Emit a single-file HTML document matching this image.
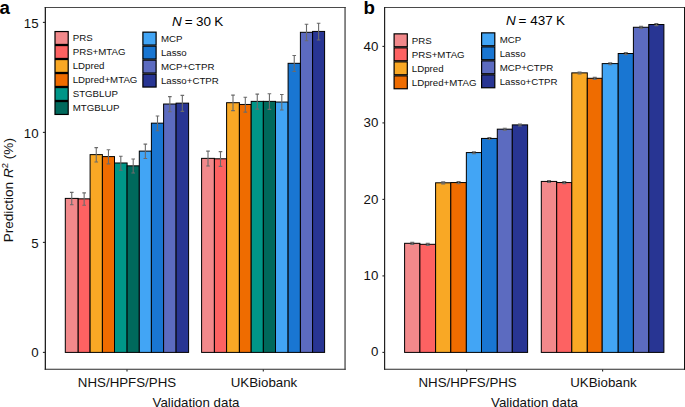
<!DOCTYPE html>
<html><head><meta charset="utf-8"><style>
html,body{margin:0;padding:0;background:#fff;width:685px;height:407px;overflow:hidden}
svg{display:block}
.t{font-family:'Liberation Sans',sans-serif;font-size:13.3px;fill:#111}
.l{font-family:'Liberation Sans',sans-serif;font-size:9.7px;fill:#111}
.n{font-family:'Liberation Sans',sans-serif;font-size:13.5px;fill:#000}
.p{font-family:'Liberation Sans',sans-serif;font-size:18.7px;font-weight:bold;fill:#000}
</style></head><body>
<svg width="685" height="407" viewBox="0 0 685 407">
<rect width="685" height="407" fill="#fff"/>
<path d="M44.7 7.5H345.7" stroke="#4a4a4a" stroke-width="1.0" fill="none"/>
<path d="M44.7 369.25H345.7" stroke="#2a2a2a" stroke-width="1.15" fill="none"/>
<path d="M45.35 7V369.8" stroke="#222" stroke-width="1.3" fill="none"/>
<path d="M345.05 7V369.8" stroke="#3a3a3a" stroke-width="1.2" fill="none"/>
<line x1="42.9" y1="352.40" x2="45.5" y2="352.40" stroke="#262626" stroke-width="1.1"/>
<text x="38.6" y="357.45" text-anchor="end" class="t">0</text>
<line x1="42.9" y1="242.40" x2="45.5" y2="242.40" stroke="#262626" stroke-width="1.1"/>
<text x="38.6" y="247.60" text-anchor="end" class="t">5</text>
<line x1="42.9" y1="132.40" x2="45.5" y2="132.40" stroke="#262626" stroke-width="1.1"/>
<text x="38.6" y="137.80" text-anchor="end" class="t">10</text>
<line x1="42.9" y1="22.40" x2="45.5" y2="22.40" stroke="#262626" stroke-width="1.1"/>
<text x="38.6" y="28.40" text-anchor="end" class="t">15</text>
<line x1="127.0" y1="369.5" x2="127.0" y2="371.6" stroke="#262626" stroke-width="1.1"/>
<line x1="263.3" y1="369.5" x2="263.3" y2="371.6" stroke="#262626" stroke-width="1.1"/>
<text x="127" y="386.9" text-anchor="middle" class="t">NHS/HPFS/PHS</text>
<text x="264" y="386.9" text-anchor="middle" class="t">UKBiobank</text>
<text x="196" y="406.5" text-anchor="middle" class="t">Validation data</text>
<rect x="65.30" y="198.40" width="12.90" height="154.00" fill="#F2898B" stroke="#000" stroke-width="1.0"/>
<rect x="78.20" y="198.84" width="11.90" height="153.56" fill="#FD6262" stroke="#000" stroke-width="1.0"/>
<rect x="90.10" y="154.62" width="12.30" height="197.78" fill="#F9A825" stroke="#000" stroke-width="1.0"/>
<rect x="102.40" y="156.60" width="12.10" height="195.80" fill="#EF6C00" stroke="#000" stroke-width="1.0"/>
<rect x="114.50" y="162.98" width="12.60" height="189.42" fill="#009688" stroke="#000" stroke-width="1.0"/>
<rect x="127.10" y="165.84" width="12.20" height="186.56" fill="#00695C" stroke="#000" stroke-width="1.0"/>
<rect x="139.30" y="151.10" width="12.10" height="201.30" fill="#42A5F5" stroke="#000" stroke-width="1.0"/>
<rect x="151.40" y="123.16" width="12.20" height="229.24" fill="#1976D2" stroke="#000" stroke-width="1.0"/>
<rect x="163.60" y="104.02" width="12.50" height="248.38" fill="#5C6BC0" stroke="#000" stroke-width="1.0"/>
<rect x="176.10" y="103.14" width="12.50" height="249.26" fill="#283593" stroke="#000" stroke-width="1.0"/>
<rect x="201.60" y="158.36" width="12.80" height="194.04" fill="#F2898B" stroke="#000" stroke-width="1.0"/>
<rect x="214.40" y="158.80" width="12.20" height="193.60" fill="#FD6262" stroke="#000" stroke-width="1.0"/>
<rect x="226.60" y="102.70" width="12.80" height="249.70" fill="#F9A825" stroke="#000" stroke-width="1.0"/>
<rect x="239.40" y="104.46" width="11.80" height="247.94" fill="#EF6C00" stroke="#000" stroke-width="1.0"/>
<rect x="251.20" y="101.38" width="12.15" height="251.02" fill="#009688" stroke="#000" stroke-width="1.0"/>
<rect x="263.35" y="101.38" width="12.15" height="251.02" fill="#00695C" stroke="#000" stroke-width="1.0"/>
<rect x="275.50" y="102.04" width="12.60" height="250.36" fill="#42A5F5" stroke="#000" stroke-width="1.0"/>
<rect x="288.10" y="63.32" width="12.30" height="289.08" fill="#1976D2" stroke="#000" stroke-width="1.0"/>
<rect x="300.40" y="32.30" width="12.20" height="320.10" fill="#5C6BC0" stroke="#000" stroke-width="1.0"/>
<rect x="312.60" y="31.42" width="12.00" height="320.98" fill="#283593" stroke="#000" stroke-width="1.0"/>
<path d="M69.95 192.40H73.55M71.75 192.40V204.80M69.95 204.80H73.55" stroke="#6b6b6b" stroke-width="1.1" fill="none"/>
<path d="M82.35 192.84H85.95M84.15 192.84V205.24M82.35 205.24H85.95" stroke="#6b6b6b" stroke-width="1.1" fill="none"/>
<path d="M94.45 147.62H98.05M96.25 147.62V162.02M94.45 162.02H98.05" stroke="#6b6b6b" stroke-width="1.1" fill="none"/>
<path d="M106.65 149.70H110.25M108.45 149.70V163.90M106.65 163.90H110.25" stroke="#6b6b6b" stroke-width="1.1" fill="none"/>
<path d="M119.00 156.18H122.60M120.80 156.18V170.18M119.00 170.18H122.60" stroke="#6b6b6b" stroke-width="1.1" fill="none"/>
<path d="M131.40 159.04H135.00M133.20 159.04V173.04M131.40 173.04H135.00" stroke="#6b6b6b" stroke-width="1.1" fill="none"/>
<path d="M143.55 144.15H147.15M145.35 144.15V158.45M143.55 158.45H147.15" stroke="#6b6b6b" stroke-width="1.1" fill="none"/>
<path d="M155.70 116.01H159.30M157.50 116.01V130.71M155.70 130.71H159.30" stroke="#6b6b6b" stroke-width="1.1" fill="none"/>
<path d="M168.05 96.62H171.65M169.85 96.62V111.82M168.05 111.82H171.65" stroke="#6b6b6b" stroke-width="1.1" fill="none"/>
<path d="M180.55 95.34H184.15M182.35 95.34V111.34M180.55 111.34H184.15" stroke="#6b6b6b" stroke-width="1.1" fill="none"/>
<path d="M206.20 151.16H209.80M208.00 151.16V165.96M206.20 165.96H209.80" stroke="#6b6b6b" stroke-width="1.1" fill="none"/>
<path d="M218.70 151.60H222.30M220.50 151.60V166.40M218.70 166.40H222.30" stroke="#6b6b6b" stroke-width="1.1" fill="none"/>
<path d="M231.20 95.15H234.80M233.00 95.15V110.65M231.20 110.65H234.80" stroke="#6b6b6b" stroke-width="1.1" fill="none"/>
<path d="M243.50 97.21H247.10M245.30 97.21V112.11M243.50 112.11H247.10" stroke="#6b6b6b" stroke-width="1.1" fill="none"/>
<path d="M255.47 94.08H259.07M257.27 94.08V109.08M255.47 109.08H259.07" stroke="#6b6b6b" stroke-width="1.1" fill="none"/>
<path d="M267.62 93.78H271.23M269.43 93.78V109.38M267.62 109.38H271.23" stroke="#6b6b6b" stroke-width="1.1" fill="none"/>
<path d="M280.00 94.44H283.60M281.80 94.44V110.04M280.00 110.04H283.60" stroke="#6b6b6b" stroke-width="1.1" fill="none"/>
<path d="M292.45 55.57H296.05M294.25 55.57V71.47M292.45 71.47H296.05" stroke="#6b6b6b" stroke-width="1.1" fill="none"/>
<path d="M304.70 24.25H308.30M306.50 24.25V40.75M304.70 40.75H308.30" stroke="#6b6b6b" stroke-width="1.1" fill="none"/>
<path d="M316.80 23.27H320.40M318.60 23.27V39.97M316.80 39.97H320.40" stroke="#6b6b6b" stroke-width="1.1" fill="none"/>
<path d="M384 7.5H685" stroke="#4a4a4a" stroke-width="1.0" fill="none"/>
<path d="M384 369.25H685" stroke="#2a2a2a" stroke-width="1.15" fill="none"/>
<path d="M384.6 7V369.8" stroke="#222" stroke-width="1.2" fill="none"/>
<path d="M684.5 7V369.8" stroke="#111" stroke-width="1.0" fill="none"/>
<line x1="382.4" y1="352.40" x2="384.6" y2="352.40" stroke="#262626" stroke-width="1.1"/>
<text x="378.4" y="356.20" text-anchor="end" class="t">0</text>
<line x1="382.4" y1="275.90" x2="384.6" y2="275.90" stroke="#262626" stroke-width="1.1"/>
<text x="378.4" y="280.30" text-anchor="end" class="t">10</text>
<line x1="382.4" y1="199.40" x2="384.6" y2="199.40" stroke="#262626" stroke-width="1.1"/>
<text x="378.4" y="204.00" text-anchor="end" class="t">20</text>
<line x1="382.4" y1="122.90" x2="384.6" y2="122.90" stroke="#262626" stroke-width="1.1"/>
<text x="378.4" y="127.40" text-anchor="end" class="t">30</text>
<line x1="382.4" y1="46.40" x2="384.6" y2="46.40" stroke="#262626" stroke-width="1.1"/>
<text x="378.4" y="50.90" text-anchor="end" class="t">40</text>
<line x1="466.6" y1="369.5" x2="466.6" y2="371.6" stroke="#262626" stroke-width="1.1"/>
<line x1="602.6" y1="369.5" x2="602.6" y2="371.6" stroke="#262626" stroke-width="1.1"/>
<text x="467.6" y="386.9" text-anchor="middle" class="t">NHS/HPFS/PHS</text>
<text x="603.5" y="386.9" text-anchor="middle" class="t">UKBiobank</text>
<text x="534.5" y="406.5" text-anchor="middle" class="t">Validation data</text>
<rect x="404.60" y="243.31" width="15.30" height="109.09" fill="#F2898B" stroke="#000" stroke-width="1.0"/>
<rect x="419.90" y="244.31" width="15.70" height="108.09" fill="#FD6262" stroke="#000" stroke-width="1.0"/>
<rect x="435.60" y="182.80" width="15.20" height="169.60" fill="#F9A825" stroke="#000" stroke-width="1.0"/>
<rect x="450.80" y="182.57" width="15.55" height="169.83" fill="#EF6C00" stroke="#000" stroke-width="1.0"/>
<rect x="466.35" y="152.58" width="15.15" height="199.82" fill="#42A5F5" stroke="#000" stroke-width="1.0"/>
<rect x="481.50" y="138.43" width="15.80" height="213.97" fill="#1976D2" stroke="#000" stroke-width="1.0"/>
<rect x="497.30" y="129.17" width="15.00" height="223.23" fill="#5C6BC0" stroke="#000" stroke-width="1.0"/>
<rect x="512.30" y="124.89" width="15.30" height="227.51" fill="#283593" stroke="#000" stroke-width="1.0"/>
<rect x="541.30" y="181.42" width="15.40" height="170.98" fill="#F2898B" stroke="#000" stroke-width="1.0"/>
<rect x="556.70" y="182.57" width="15.10" height="169.83" fill="#FD6262" stroke="#000" stroke-width="1.0"/>
<rect x="571.80" y="72.87" width="15.50" height="279.53" fill="#F9A825" stroke="#000" stroke-width="1.0"/>
<rect x="587.30" y="78.30" width="14.90" height="274.10" fill="#EF6C00" stroke="#000" stroke-width="1.0"/>
<rect x="602.20" y="63.61" width="16.00" height="288.79" fill="#42A5F5" stroke="#000" stroke-width="1.0"/>
<rect x="618.20" y="53.51" width="15.20" height="298.89" fill="#1976D2" stroke="#000" stroke-width="1.0"/>
<rect x="633.40" y="27.27" width="15.40" height="325.12" fill="#5C6BC0" stroke="#000" stroke-width="1.0"/>
<rect x="648.80" y="24.52" width="15.10" height="327.88" fill="#283593" stroke="#000" stroke-width="1.0"/>
<path d="M410.25 242.41H414.25M412.25 242.41V244.41M410.25 244.41H414.25" stroke="#6b6b6b" stroke-width="1.1" fill="none"/>
<path d="M425.75 243.41H429.75M427.75 243.41V245.41M425.75 245.41H429.75" stroke="#6b6b6b" stroke-width="1.1" fill="none"/>
<path d="M441.20 181.90H445.20M443.20 181.90V183.90M441.20 183.90H445.20" stroke="#6b6b6b" stroke-width="1.1" fill="none"/>
<path d="M456.58 181.67H460.58M458.58 181.67V183.67M456.58 183.67H460.58" stroke="#6b6b6b" stroke-width="1.1" fill="none"/>
<path d="M471.93 151.68H475.93M473.93 151.68V153.68M471.93 153.68H475.93" stroke="#6b6b6b" stroke-width="1.1" fill="none"/>
<path d="M487.40 137.53H491.40M489.40 137.53V139.53M487.40 139.53H491.40" stroke="#6b6b6b" stroke-width="1.1" fill="none"/>
<path d="M502.80 128.27H506.80M504.80 128.27V130.27M502.80 130.27H506.80" stroke="#6b6b6b" stroke-width="1.1" fill="none"/>
<path d="M517.95 123.99H521.95M519.95 123.99V125.99M517.95 125.99H521.95" stroke="#6b6b6b" stroke-width="1.1" fill="none"/>
<path d="M547.00 180.52H551.00M549.00 180.52V182.52M547.00 182.52H551.00" stroke="#6b6b6b" stroke-width="1.1" fill="none"/>
<path d="M562.25 181.67H566.25M564.25 181.67V183.67M562.25 183.67H566.25" stroke="#6b6b6b" stroke-width="1.1" fill="none"/>
<path d="M577.55 71.97H581.55M579.55 71.97V73.97M577.55 73.97H581.55" stroke="#6b6b6b" stroke-width="1.1" fill="none"/>
<path d="M592.75 77.40H596.75M594.75 77.40V79.40M592.75 79.40H596.75" stroke="#6b6b6b" stroke-width="1.1" fill="none"/>
<path d="M608.20 62.71H612.20M610.20 62.71V64.71M608.20 64.71H612.20" stroke="#6b6b6b" stroke-width="1.1" fill="none"/>
<path d="M623.80 52.61H627.80M625.80 52.61V54.61M623.80 54.61H627.80" stroke="#6b6b6b" stroke-width="1.1" fill="none"/>
<path d="M639.10 26.37H643.10M641.10 26.37V28.37M639.10 28.37H643.10" stroke="#6b6b6b" stroke-width="1.1" fill="none"/>
<path d="M654.35 23.62H658.35M656.35 23.62V25.62M654.35 25.62H658.35" stroke="#6b6b6b" stroke-width="1.1" fill="none"/>
<rect x="55.00" y="31.55" width="13.20" height="12.90" fill="#F2898B" stroke="#000" stroke-width="1.2"/>
<text x="72.70" y="41.40" class="l">PRS</text>
<rect x="55.00" y="45.55" width="13.20" height="12.90" fill="#FD6262" stroke="#000" stroke-width="1.2"/>
<text x="72.70" y="55.40" class="l">PRS+MTAG</text>
<rect x="55.00" y="59.55" width="13.20" height="12.90" fill="#F9A825" stroke="#000" stroke-width="1.2"/>
<text x="72.70" y="69.40" class="l">LDpred</text>
<rect x="55.00" y="73.55" width="13.20" height="12.90" fill="#EF6C00" stroke="#000" stroke-width="1.2"/>
<text x="72.70" y="83.40" class="l">LDpred+MTAG</text>
<rect x="55.00" y="87.55" width="13.20" height="12.90" fill="#009688" stroke="#000" stroke-width="1.2"/>
<text x="72.70" y="97.40" class="l">STGBLUP</text>
<rect x="55.00" y="101.55" width="13.20" height="12.90" fill="#00695C" stroke="#000" stroke-width="1.2"/>
<text x="72.70" y="111.40" class="l">MTGBLUP</text>
<rect x="142.90" y="32.15" width="13.20" height="12.90" fill="#42A5F5" stroke="#000" stroke-width="1.2"/>
<text x="160.90" y="42.00" class="l">MCP</text>
<rect x="142.90" y="46.15" width="13.20" height="12.90" fill="#1976D2" stroke="#000" stroke-width="1.2"/>
<text x="160.90" y="56.00" class="l">Lasso</text>
<rect x="142.90" y="60.15" width="13.20" height="12.90" fill="#5C6BC0" stroke="#000" stroke-width="1.2"/>
<text x="160.90" y="70.00" class="l">MCP+CTPR</text>
<rect x="142.90" y="74.15" width="13.20" height="12.90" fill="#283593" stroke="#000" stroke-width="1.2"/>
<text x="160.90" y="84.00" class="l">Lasso+CTPR</text>
<rect x="394.10" y="33.85" width="13.20" height="12.90" fill="#F2898B" stroke="#000" stroke-width="1.2"/>
<text x="411.80" y="43.70" class="l">PRS</text>
<rect x="394.10" y="47.85" width="13.20" height="12.90" fill="#FD6262" stroke="#000" stroke-width="1.2"/>
<text x="411.80" y="57.70" class="l">PRS+MTAG</text>
<rect x="394.10" y="61.85" width="13.20" height="12.90" fill="#F9A825" stroke="#000" stroke-width="1.2"/>
<text x="411.80" y="71.70" class="l">LDpred</text>
<rect x="394.10" y="75.85" width="13.20" height="12.90" fill="#EF6C00" stroke="#000" stroke-width="1.2"/>
<text x="411.80" y="85.70" class="l">LDpred+MTAG</text>
<rect x="481.60" y="32.85" width="13.20" height="12.90" fill="#42A5F5" stroke="#000" stroke-width="1.2"/>
<text x="499.70" y="42.70" class="l">MCP</text>
<rect x="481.60" y="46.85" width="13.20" height="12.90" fill="#1976D2" stroke="#000" stroke-width="1.2"/>
<text x="499.70" y="56.70" class="l">Lasso</text>
<rect x="481.60" y="60.85" width="13.20" height="12.90" fill="#5C6BC0" stroke="#000" stroke-width="1.2"/>
<text x="499.70" y="70.70" class="l">MCP+CTPR</text>
<rect x="481.60" y="74.85" width="13.20" height="12.90" fill="#283593" stroke="#000" stroke-width="1.2"/>
<text x="499.70" y="84.70" class="l">Lasso+CTPR</text>
<text x="172" y="25.6" class="n"><tspan font-style="italic">N</tspan><tspan dx="-0.8"> =</tspan><tspan dx="-0.4"> 30</tspan><tspan dx="-0.4"> K</tspan></text>
<text x="505.9" y="24.9" class="n"><tspan font-style="italic">N</tspan><tspan dx="-0.8"> =</tspan><tspan dx="0"> 437</tspan><tspan dx="-0.4"> K</tspan></text>
<text x="-0.4" y="13.8" class="p">a</text>
<text x="363.6" y="13.8" class="p">b</text>
<text transform="translate(13.3,190.2) rotate(-90)" text-anchor="middle" class="t" style="font-size:13.6px">Prediction <tspan font-style="italic">R</tspan><tspan dy="-5" font-size="9.5px">2</tspan><tspan dy="5"> (%)</tspan></text>
</svg>
</body></html>
